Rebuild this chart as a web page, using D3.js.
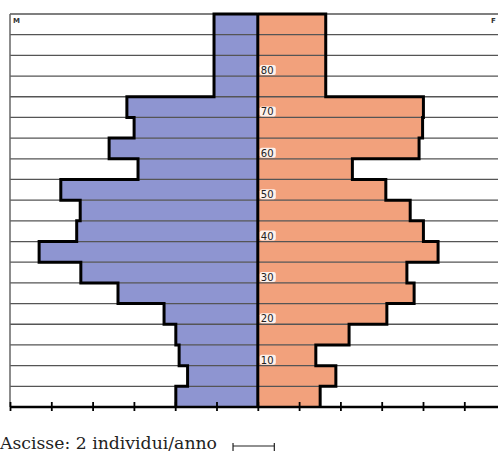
<!DOCTYPE html>
<html>
<head>
<meta charset="utf-8">
<script src="https://cdn.jsdelivr.net/npm/d3@7"></script>
<style>
  body { margin: 0; background: #fff; }
  svg { display: block; }
</style>
</head>
<body>
<div id="piramide"></div>
<script>
// classi di eta (inizio di ogni classe quinquennale)
const classiEta = [0, 5, 10, 15, 20, 25, 30, 35, 40, 45, 50, 55, 60, 65, 70, 75, 80, 85, 90]
// individui/anno per classe
const maschi = [3.97, 3.40, 3.81, 3.97, 4.54, 6.77, 8.57, 10.59, 8.77, 8.60, 9.54, 5.80, 7.20, 5.99, 6.34, 2.12, 2.12, 2.12, 2.12]
const femmine = [3.02, 3.78, 2.81, 4.42, 6.25, 7.57, 7.22, 8.73, 8.02, 7.38, 6.20, 4.58, 7.81, 7.98, 8.02, 3.29, 3.29, 3.29, 3.29]
const etichetteEta = [10, 20, 30, 40, 50, 60, 70, 80]
const tickX = [-12, -10, -8, -6, -4, -2, 0, 2, 4, 6, 8, 10, 12]

const width = 498
const height = 455
const margineSup = 14, margineInf = 407, margineSin = 10
const blu = '#8e95d1'
const arancio = '#f2a17c'

const svg = d3.select('#piramide')
    .append('svg')
    .attr('width', width)
    .attr('height', height)

// scale
const x = d3.scaleLinear()
    .domain([-12, 12])
    .range([margineSin, margineSin + 24 * 20.65])

const y = d3.scaleBand()
    .domain(classiEta)
    .range([margineInf, margineSup])
    .padding(0)

const data = classiEta.map((eta, i) => ({ eta: eta, m: maschi[i], f: femmine[i] }))

// barre maschi
svg.selectAll('.bar-m')
    .data(data)
    .enter().append('rect')
    .attr('class', 'bar-m')
    .attr('x', d => x(-d.m))
    .attr('y', d => y(d.eta))
    .attr('width', d => x(0) - x(-d.m))
    .attr('height', y.bandwidth())
    .style('fill', blu)

// barre femmine
svg.selectAll('.bar-f')
    .data(data)
    .enter().append('rect')
    .attr('class', 'bar-f')
    .attr('x', x(0))
    .attr('y', d => y(d.eta))
    .attr('width', d => x(d.f) - x(0))
    .attr('height', y.bandwidth())
    .style('fill', arancio)

// griglia orizzontale
svg.selectAll('.griglia')
    .data(classiEta.slice(1).concat([95]))
    .enter().append('line')
    .attr('class', 'griglia')
    .attr('x1', margineSin)
    .attr('x2', width)
    .attr('y1', d => d === 95 ? margineSup : y(d) + y.bandwidth())
    .attr('y2', d => d === 95 ? margineSup : y(d) + y.bandwidth())
    .style('stroke', '#555')
    .style('stroke-width', 1.3)

// bordo sinistro
svg.append('line')
    .attr('x1', margineSin).attr('x2', margineSin)
    .attr('y1', margineSup).attr('y2', margineInf)
    .style('stroke', '#666')
    .style('stroke-width', 1.5)

// contorno a gradini
function contorno(valori, segno) {
    const punti = [[x(0), margineSup]]
    for (let i = classiEta.length - 1; i >= 0; i--) {
        const xv = x(segno * valori[i])
        punti.push([xv, y(classiEta[i])])
        punti.push([xv, y(classiEta[i]) + y.bandwidth()])
    }
    return d3.line()(punti)
}

svg.append('path')
    .attr('d', contorno(maschi, -1))
    .style('fill', 'none')
    .style('stroke', '#000')
    .style('stroke-width', 3)

svg.append('path')
    .attr('d', contorno(femmine, 1))
    .style('fill', 'none')
    .style('stroke', '#000')
    .style('stroke-width', 3)

// linea centrale
svg.append('line')
    .attr('x1', x(0)).attr('x2', x(0))
    .attr('y1', margineSup - 1).attr('y2', margineInf)
    .style('stroke', '#000')
    .style('stroke-width', 3)

// asse x
const xAxis = svg.append('g')
    .attr('transform', `translate(0, ${margineInf})`)
    .call(d3.axisBottom(x).tickValues(tickX).tickSize(0).tickFormat(''))
xAxis.select('.domain')
    .attr('d', `M${margineSin},0H${width}`)
    .style('stroke', '#000')
    .style('stroke-width', 2.5)
xAxis.selectAll('.tick line')
    .attr('y1', -5)
    .attr('y2', 4)
    .style('stroke', '#000')
    .style('stroke-width', 1.8)

// etichette eta
const etichette = svg.selectAll('.eta')
    .data(etichetteEta)
    .enter().append('g')
    .attr('class', 'eta')
    .attr('transform', d => `translate(${x(0) + 2}, ${y(d) + y.bandwidth()})`)

etichette.append('rect')
    .attr('x', 0)
    .attr('y', -11)
    .attr('width', 16)
    .attr('height', 10)
    .attr('rx', 2)
    .style('fill', '#fff')
    .style('opacity', 0.85)

etichette.append('text')
    .attr('x', 1)
    .attr('y', -2)
    .text(d => d)
    .style('font-family', 'DejaVu Sans')
    .style('font-size', '10px')
    .style('fill', '#222')

// etichette M / F
svg.append('text')
    .attr('x', 13)
    .attr('y', 23)
    .text('M')
    .style('font-family', 'DejaVu Sans')
    .style('font-size', '7px')
    .style('font-weight', 'bold')
    .style('fill', '#333')

svg.append('text')
    .attr('x', 491)
    .attr('y', 23)
    .text('F')
    .style('font-family', 'DejaVu Sans')
    .style('font-size', '7px')
    .style('font-weight', 'bold')
    .style('fill', '#333')

// didascalia
svg.append('text')
    .attr('x', 0)
    .attr('y', 449)
    .attr('textLength', 217)
    .attr('lengthAdjust', 'spacingAndGlyphs')
    .text('Ascisse: 2 individui/anno')
    .style('font-family', 'DejaVu Serif')
    .style('font-size', '16px')
    .style('fill', '#222')

// barra di scala (2 individui/anno)
const scala = svg.append('g')
    .attr('transform', `translate(0, 446)`)
scala.append('line')
    .attr('x1', x(-1.2)).attr('x2', x(0.8))
    .attr('y1', 0).attr('y2', 0)
    .style('stroke', '#222').style('stroke-width', 1.2)
scala.selectAll('.cap')
    .data([-1.2, 0.8])
    .enter().append('line')
    .attr('x1', d => x(d)).attr('x2', d => x(d))
    .attr('y1', -3).attr('y2', 5)
    .style('stroke', '#222').style('stroke-width', 1.2)
</script>
</body>
</html>
